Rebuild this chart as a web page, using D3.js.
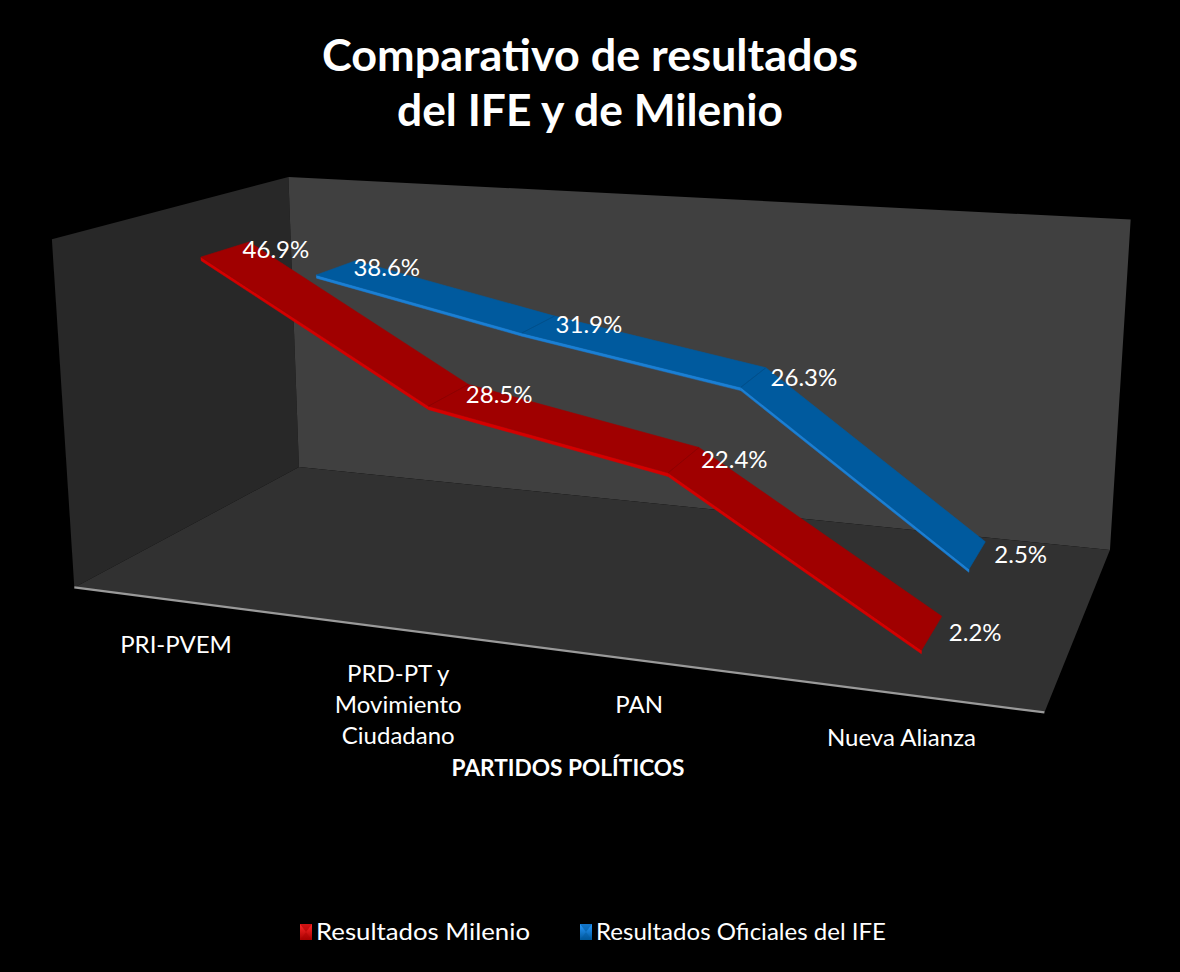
<!DOCTYPE html>
<html><head><meta charset="utf-8">
<script src="https://cdn.jsdelivr.net/npm/d3@7"></script>
<style>html,body{margin:0;padding:0;background:#000;} svg{display:block;}</style>
</head><body><svg id="chart" width="1180" height="972"></svg>
<script>
// ---------------- DATA ----------------
const categories = ["PRI-PVEM", "PRD-PT y Movimiento Ciudadano", "PAN", "Nueva Alianza"];
const categoryLines = [["PRI-PVEM"], ["PRD-PT y", "Movimiento", "Ciudadano"], ["PAN"], ["Nueva Alianza"]];
const seriesNames = ["Resultados Milenio", "Resultados Oficiales del IFE"];
const milenioValues = [46.9, 28.5, 22.4, 2.2];
const ifeValues = [38.6, 31.9, 26.3, 2.5];
const valueDomain = [0, 50];
const titleLines = ["Comparativo de resultados", "del IFE y de Milenio"];
const axisTitle = "PARTIDOS POLÍTICOS";

// ---------------- 3D FRAME (screen corners of the unit box) ----------------
const frameCorners = [
  {p: [0, 0, 0], s: [74.3, 586.7]},
  {p: [0, 1, 0], s: [52, 239.3]},
  {p: [1, 0, 0], s: [1044.3, 713.3]},
  {p: [0, 0, 1], s: [299, 468]},
  {p: [0, 1, 1], s: [288.3, 176.7]},
  {p: [1, 0, 1], s: [1110, 549]},
  {p: [1, 1, 1], s: [1130.7, 220]}
];

function solveLinear(A, b) {
  const n = b.length;
  const M = A.map((r, i) => r.concat([b[i]]));
  for (let c = 0; c < n; c++) {
    let piv = c;
    for (let r = c + 1; r < n; r++) if (Math.abs(M[r][c]) > Math.abs(M[piv][c])) piv = r;
    [M[c], M[piv]] = [M[piv], M[c]];
    for (let r = 0; r < n; r++) {
      if (r === c) continue;
      const f = M[r][c] / M[c][c];
      for (let k = c; k <= n; k++) M[r][k] -= f * M[c][k];
    }
  }
  return M.map((r, i) => r[n] / r[i]);
}
const NX = 590, NY = 450, NS = 500;
function fitProjection(corners) {
  const A = [], b = [];
  corners.forEach(({p: [X, Y, Z], s: [x0, y0]}) => {
    const x = (x0 - NX) / NS, y = (y0 - NY) / NS;
    A.push([X, Y, Z, 1, 0, 0, 0, 0, -x * X, -x * Y, -x * Z]); b.push(x);
    A.push([0, 0, 0, 0, X, Y, Z, 1, -y * X, -y * Y, -y * Z]); b.push(y);
  });
  const N = Array.from({length: 11}, () => new Array(11).fill(0));
  const r = new Array(11).fill(0);
  for (let i = 0; i < A.length; i++) {
    for (let j = 0; j < 11; j++) {
      r[j] += A[i][j] * b[i];
      for (let k = 0; k < 11; k++) N[j][k] += A[i][j] * A[i][k];
    }
  }
  return solveLinear(N, r);
}
const P = fitProjection(frameCorners);
function proj(X, Y, Z) {
  const w = P[8] * X + P[9] * Y + P[10] * Z + 1;
  const x = (P[0] * X + P[1] * Y + P[2] * Z + P[3]) / w;
  const y = (P[4] * X + P[5] * Y + P[6] * Z + P[7]) / w;
  return [x * NS + NX, y * NS + NY];
}

// ---------------- SCALES ----------------
const xPos = d3.scalePoint().domain(categories).range([0, 1]).padding(0.5);
const yPos = d3.scaleLinear().domain(valueDomain).range([0, 1]);
const zBand = d3.scaleBand().domain(seriesNames).range([0, 1]).paddingInner(0.6).paddingOuter(0.3);
const fmt = v => d3.format(".1f")(v) + "%";

const series = [
  {name: seriesNames[0], values: milenioValues, top: "#a00000", edge: "#d40000", joint: "#8a0000", m1: "#ff2a2a", m2: "#a80000"},
  {name: seriesNames[1], values: ifeValues, top: "#005a9e", edge: "#1a7fd4", joint: "#004c86", m1: "#2a9aff", m2: "#00589c"}
];

const svg = d3.select("#chart");
svg.append("rect").attr("width", 1180).attr("height", 972).attr("fill", "#000");

const line = d3.line();
const poly = pts => line(pts) + "Z";

// walls
const C = (X, Y, Z) => proj(X, Y, Z);
svg.append("path").attr("d", poly([C(0,0,0), C(0,1,0), C(0,1,1), C(0,0,1)])).attr("fill", "#282828");
svg.append("path").attr("d", poly([C(0,0,1), C(0,1,1), C(1,1,1), C(1,0,1)])).attr("fill", "#404040");
svg.append("path").attr("d", poly([C(0,0,0), C(0,0,1), C(1,0,1), C(1,0,0)])).attr("fill", "#313131");
svg.append("path").attr("d", line([C(0,0,0), C(1,0,0)])).attr("stroke", "#9a9a9a").attr("stroke-width", 2.2).attr("fill", "none");

// ribbons (back series first)
const thick = 0.5;
const ribbonG = svg.append("g");
[...series].reverse().forEach(s => {
  const z0 = zBand(s.name), z1 = z0 + zBand.bandwidth();
  const g = ribbonG.append("g");
  for (let i = 0; i < categories.length - 1; i++) {
    const xa = xPos(categories[i]), xb = xPos(categories[i + 1]);
    const ya = yPos(s.values[i]), yb = yPos(s.values[i + 1]);
    const yt = yPos(thick) - yPos(0);
    g.append("path").attr("d", poly([proj(xa, ya, z0), proj(xb, yb, z0), proj(xb, yb - yt, z0), proj(xa, ya - yt, z0)]))
      .attr("fill", s.edge).attr("stroke", s.edge).attr("stroke-width", 0.5);
    g.append("path").attr("d", poly([proj(xa, ya, z0), proj(xb, yb, z0), proj(xb, yb, z1), proj(xa, ya, z1)]))
      .attr("fill", s.top).attr("stroke", s.top).attr("stroke-width", 0.6);
  }
  for (let i = 1; i < categories.length - 1; i++) {
    const x = xPos(categories[i]), y = yPos(s.values[i]);
    g.append("path").attr("d", line([proj(x, y, z0), proj(x, y, z1)])).attr("stroke", s.joint).attr("stroke-width", 0.8);
  }
});

// data labels
const labelFont = "Lato, 'Open Sans', sans-serif";
series.forEach(s => {
  const zm = zBand(s.name) + zBand.bandwidth() / 2;
  s.values.forEach((v, i) => {
    const [x, y] = proj(xPos(categories[i]), yPos(v), zm);
    svg.append("text").attr("x", x + 17).attr("y", y).attr("dy", "0.35em")
      .attr("fill", "#fff").attr("font-family", labelFont).attr("font-size", 24).text(fmt(v));
  });
});

// category labels
categories.forEach((c, i) => {
  const [x, y] = proj(xPos(c), 0, 0);
  const t = svg.append("text").attr("x", x - 3).attr("y", y + 52)
    .attr("fill", "#fff").attr("font-family", labelFont).attr("font-size", 24).attr("text-anchor", "middle");
  categoryLines[i].forEach((l, k) => t.append("tspan").attr("x", x - 3).attr("dy", k ? 31 : 0).text(l));
});

// axis title
svg.append("text").attr("x", 568).attr("y", 776).attr("text-anchor", "middle")
  .attr("fill", "#fff").attr("font-family", labelFont).attr("font-weight", 700).attr("font-size", 22)
  .attr("textLength", 233).attr("lengthAdjust", "spacingAndGlyphs").text(axisTitle);

// title
const titleWidths = [536, 386];
titleLines.forEach((t, i) => {
  svg.append("text").attr("x", 590).attr("y", 71 + i * 55).attr("text-anchor", "middle")
    .attr("fill", "#fff").attr("font-family", labelFont).attr("font-weight", 700).attr("font-size", 44)
    .attr("textLength", titleWidths[i]).attr("lengthAdjust", "spacingAndGlyphs").text(t);
});

// legend
const legendX = [300, 580], legendW = [214, 290];
const defs = svg.append("defs");
series.forEach((s, i) => {
  const gid = "lg" + i;
  const grad = defs.append("linearGradient").attr("id", gid).attr("x1", 0).attr("y1", 0).attr("x2", 0).attr("y2", 1);
  grad.append("stop").attr("offset", 0).attr("stop-color", s.m1);
  grad.append("stop").attr("offset", 1).attr("stop-color", s.m2);
  const g = svg.append("g").attr("transform", `translate(${legendX[i]},924)`);
  g.append("rect").attr("width", 12).attr("height", 16).attr("fill", `url(#${gid})`);
  g.append("path").attr("d", "M0,0L12,0L6,8Z").attr("fill", s.m2).attr("opacity", 0.55);
  g.append("path").attr("d", "M0,16L12,16L6,8Z").attr("fill", s.m2).attr("opacity", 0.4);
  g.append("text").attr("x", 16).attr("y", 16).attr("fill", "#fff").attr("font-family", labelFont)
    .attr("font-size", 24).attr("textLength", legendW[i]).attr("lengthAdjust", "spacingAndGlyphs").text(s.name);
});
</script></body></html>
